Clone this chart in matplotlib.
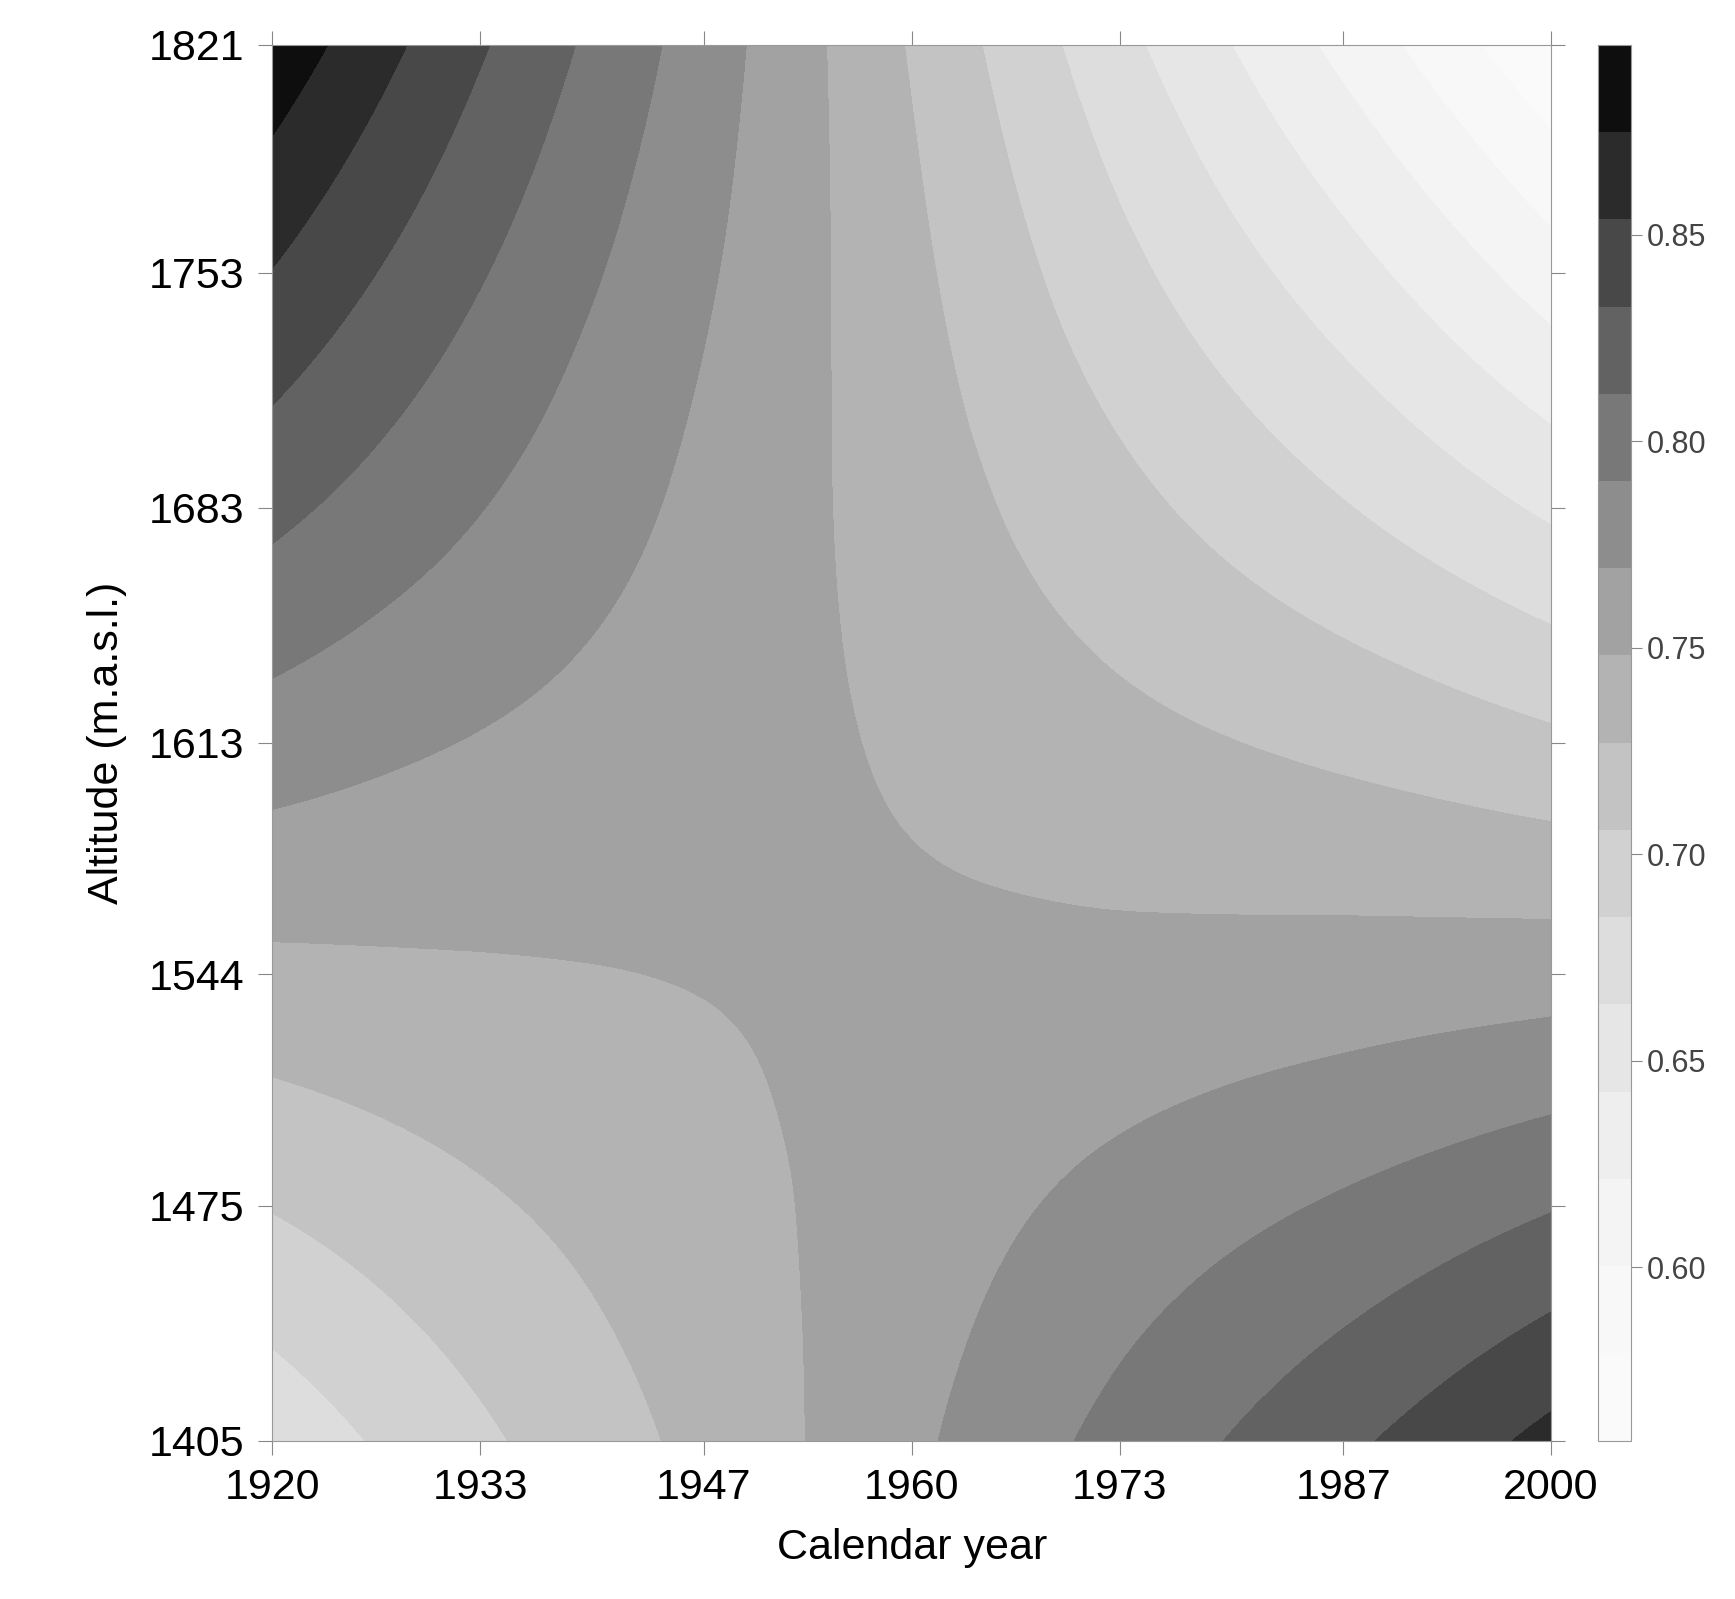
import matplotlib
matplotlib.use("Agg")
import matplotlib.pyplot as plt
import matplotlib.tri as mtri
from matplotlib.colors import ListedColormap
import numpy as np

plt.rcParams['font.family'] = ['Liberation Sans', 'DejaVu Sans']

# Grid read at tick positions (rows: altitude bottom->top, cols: year left->right)
years = [1920, 1933, 1947, 1960, 1973, 1987, 2000]
altitudes = [1405, 1475, 1544, 1613, 1683, 1753, 1821]
values = np.array([
    [0.670, 0.702, 0.733, 0.765, 0.797, 0.828, 0.860],
    [0.707, 0.724, 0.741, 0.758, 0.776, 0.793, 0.810],
    [0.743, 0.746, 0.749, 0.752, 0.754, 0.757, 0.760],
    [0.780, 0.768, 0.757, 0.745, 0.733, 0.722, 0.710],
    [0.817, 0.791, 0.764, 0.738, 0.712, 0.686, 0.660],
    [0.853, 0.813, 0.772, 0.732, 0.691, 0.651, 0.610],
    [0.890, 0.835, 0.780, 0.725, 0.670, 0.615, 0.560],
])
levels = np.linspace(0.558, 0.896, 17)
cbar_ticks = [0.60, 0.65, 0.70, 0.75, 0.80, 0.85]

# grey ramp, light in the middle like the original
t = np.linspace(0, 1, 256)
b = 0.98 * (1 - t ** 2.0)
cmap = ListedColormap(np.column_stack([b, b, b]))

fig = plt.figure(figsize=(17.35, 15.99), dpi=100)
ax = fig.add_axes([0.157, 0.099, 0.737, 0.873])
cax = fig.add_axes([0.921, 0.099, 0.019, 0.873])

X, Y = np.meshgrid(years, altitudes)
# normalised coordinates for a smooth cubic surface through the grid
xs = (X.ravel() - 1920) / 80.0
ys = (Y.ravel() - 1405) / 416.0
tri = mtri.Triangulation(xs, ys)
interp = mtri.CubicTriInterpolator(tri, values.ravel())
refiner = mtri.UniformTriRefiner(tri)
tri_f, z_f = refiner.refine_field(values.ravel(), triinterpolator=interp, subdiv=4)
tri_plot = mtri.Triangulation(tri_f.x * 80.0 + 1920, tri_f.y * 416.0 + 1405,
                              tri_f.triangles)
cs = ax.tricontourf(tri_plot, z_f, levels=levels, cmap=cmap)

ax.set_xlim(1920, 2000)
ax.set_ylim(1405, 1821)
ax.set_xticks(years)
ax.set_yticks(altitudes)
ax.tick_params(labelsize=31, direction="out", length=10, color="#888888",
               top=True, right=True, pad=10)
ax.set_xlabel("Calendar year", fontsize=31, labelpad=14)
ax.set_ylabel("Altitude (m.a.s.l.)", fontsize=31, labelpad=16)
for s in ax.spines.values():
    s.set_color("#999999")

cb = fig.colorbar(cs, cax=cax, ticks=cbar_ticks)
cb.ax.tick_params(labelsize=22, labelcolor="#444444", color="#888888", length=8)
cb.outline.set_edgecolor("#999999")
cb.ax.set_yticklabels(["%.2f" % v for v in cbar_ticks])

fig.savefig("out.png", dpi=100)
